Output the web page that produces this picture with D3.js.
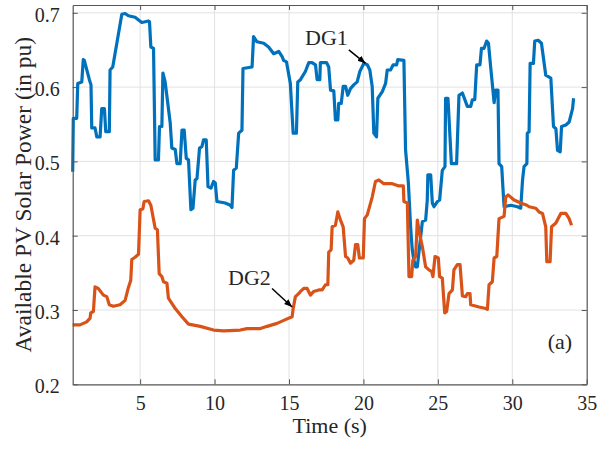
<!DOCTYPE html>
<html>
<head>
<meta charset="utf-8">
<script src="https://cdn.jsdelivr.net/npm/d3@7"></script>
<style>
  html, body { margin: 0; padding: 0; background: #fff; }
  svg { display: block; }
  text { font-family: "Liberation Serif", "Times New Roman", serif; fill: #262626; }
</style>
</head>
<body>
<svg id="chart" width="600" height="450"></svg>
<script>
// ---- Data ----
const xTicks = [5, 10, 15, 20, 25, 30, 35];
const yTicks = [0.2, 0.3, 0.4, 0.5, 0.6, 0.7];
const xTickLabels = ["5", "10", "15", "20", "25", "30", "35"];
const yTickLabels = ["0.2", "0.3", "0.4", "0.5", "0.6", "0.7"];

const dg1Time = [0.47,0.51,0.74,0.81,1.08,1.18,1.25,1.59,1.70,1.75,1.97,2.09,2.31,2.42,2.60,2.69,2.93,2.98,3.16,3.77,3.99,4.21,4.66,5.11,5.56,5.63,5.72,5.90,6.01,6.23,6.30,6.46,6.53,6.68,7.02,7.13,7.36,7.47,7.69,7.81,7.96,8.10,8.25,8.41,8.55,8.70,8.82,8.99,9.15,9.26,9.44,9.56,9.76,9.93,10.05,10.16,10.72,11.06,11.17,11.28,11.46,11.62,11.84,11.91,12.52,12.62,12.85,13.30,13.63,13.97,14.31,14.54,14.64,14.83,15.09,15.28,15.50,15.59,15.77,16.10,16.33,16.55,16.78,16.89,17.07,17.11,17.52,17.67,17.79,18.01,18.12,18.28,18.34,18.51,18.64,18.80,18.95,19.13,19.35,19.58,19.76,20.03,20.26,20.43,20.59,20.70,20.88,20.97,21.27,21.49,21.60,21.82,22.00,22.23,22.31,22.72,22.83,23.02,23.17,23.28,23.39,23.51,23.62,23.77,23.96,24.18,24.29,24.33,24.52,24.63,24.74,24.97,25.12,25.30,25.48,25.52,25.68,25.91,26.26,26.42,26.65,26.98,27.21,27.32,27.48,27.61,27.83,27.93,28.10,28.28,28.40,28.55,28.78,28.89,29.04,29.11,29.29,29.38,29.45,29.90,30.35,30.57,30.69,30.79,30.98,31.01,31.13,31.20,31.42,31.51,31.74,31.96,32.25,32.59,32.77,32.93,33.04,33.22,33.31,33.60,33.82,34.05,34.12];
const dg1Power = [0.486,0.558,0.558,0.605,0.607,0.637,0.636,0.610,0.603,0.545,0.545,0.533,0.533,0.571,0.571,0.540,0.540,0.623,0.627,0.698,0.699,0.696,0.694,0.687,0.689,0.688,0.654,0.652,0.502,0.502,0.547,0.547,0.619,0.607,0.552,0.518,0.516,0.497,0.497,0.542,0.542,0.504,0.502,0.435,0.437,0.475,0.477,0.518,0.520,0.529,0.529,0.466,0.464,0.473,0.471,0.446,0.444,0.441,0.438,0.488,0.491,0.538,0.542,0.625,0.627,0.668,0.661,0.659,0.654,0.645,0.648,0.641,0.636,0.634,0.605,0.538,0.538,0.607,0.610,0.621,0.633,0.633,0.630,0.610,0.610,0.633,0.633,0.627,0.596,0.595,0.556,0.556,0.578,0.578,0.601,0.601,0.589,0.598,0.603,0.607,0.621,0.632,0.630,0.623,0.601,0.538,0.533,0.585,0.594,0.605,0.623,0.623,0.630,0.630,0.637,0.636,0.516,0.471,0.412,0.381,0.367,0.358,0.358,0.385,0.419,0.421,0.448,0.482,0.482,0.444,0.439,0.446,0.448,0.488,0.493,0.585,0.585,0.497,0.497,0.589,0.592,0.574,0.574,0.583,0.583,0.630,0.630,0.652,0.652,0.662,0.659,0.627,0.579,0.596,0.596,0.497,0.493,0.462,0.439,0.441,0.439,0.437,0.475,0.493,0.497,0.538,0.540,0.632,0.632,0.662,0.663,0.659,0.616,0.612,0.547,0.544,0.515,0.513,0.547,0.549,0.553,0.571,0.585];

const dg2Time = [0.47,0.96,1.41,1.64,1.68,1.86,1.97,2.19,2.53,2.76,2.93,3.20,3.65,3.99,4.21,4.37,4.44,4.66,4.89,5.00,5.18,5.27,5.56,5.72,6.01,6.16,6.28,6.46,6.57,6.80,6.90,7.13,7.36,7.81,8.25,9.04,9.93,10.61,11.73,12.18,13.08,13.53,14.20,14.76,15.21,15.28,15.43,15.65,15.77,15.99,16.22,16.44,16.66,17.00,17.23,17.45,17.61,17.67,17.83,17.90,18.12,18.28,18.46,18.64,18.80,18.95,19.13,19.35,19.47,19.62,19.73,19.99,20.07,20.26,20.59,20.81,21.04,21.37,21.94,22.38,22.68,22.72,22.95,23.06,23.24,23.32,23.51,23.62,23.77,23.96,24.18,24.40,24.58,24.67,24.81,25.03,25.12,25.30,25.46,25.59,25.75,25.98,26.08,26.31,26.49,26.65,26.87,26.98,27.16,27.21,27.77,28.22,28.33,28.44,28.66,28.78,28.96,29.11,29.45,29.56,29.72,30.12,30.57,30.98,31.13,31.58,31.80,32.03,32.25,32.32,32.54,32.64,32.93,33.26,33.60,33.82,33.98];
const dg2Power = [0.280,0.280,0.284,0.289,0.296,0.298,0.331,0.329,0.320,0.318,0.307,0.305,0.307,0.313,0.330,0.340,0.368,0.371,0.375,0.435,0.436,0.446,0.447,0.441,0.410,0.408,0.349,0.345,0.338,0.336,0.316,0.309,0.302,0.291,0.281,0.278,0.273,0.272,0.273,0.275,0.275,0.278,0.282,0.287,0.291,0.302,0.318,0.322,0.325,0.329,0.329,0.320,0.325,0.327,0.327,0.334,0.334,0.378,0.381,0.412,0.414,0.432,0.421,0.412,0.372,0.370,0.363,0.367,0.388,0.388,0.370,0.370,0.423,0.428,0.452,0.473,0.475,0.470,0.470,0.467,0.467,0.446,0.444,0.345,0.345,0.367,0.372,0.421,0.403,0.385,0.358,0.354,0.352,0.345,0.372,0.370,0.345,0.343,0.296,0.298,0.322,0.327,0.354,0.361,0.361,0.319,0.318,0.322,0.322,0.307,0.304,0.302,0.301,0.334,0.338,0.370,0.372,0.423,0.426,0.452,0.455,0.448,0.444,0.441,0.439,0.437,0.432,0.430,0.412,0.365,0.365,0.412,0.417,0.430,0.430,0.423,0.414];

const seriesNames = ["DG1", "DG2"];
const seriesColors = ["#0072BD", "#D95319"];

// ---- Layout ----
const svg = d3.select("#chart");
const L = 72.7, R = 586.7, T = 5, B = 384.3;
const x = d3.scaleLinear().domain([0.47, 35]).range([L, R]);
const y = d3.scaleLinear().domain([0.2, 0.7105]).range([B, T]);

// grid
const grid = svg.append("g");
grid.selectAll(".gx").data(xTicks.filter(t => t < 35)).enter().append("line")
  .attr("x1", d => x(d)).attr("x2", d => x(d)).attr("y1", T).attr("y2", B)
  .attr("stroke", "#e2e2e2").attr("stroke-width", 1);
grid.selectAll(".gy").data(yTicks.filter(t => t > 0.2)).enter().append("line")
  .attr("x1", L).attr("x2", R).attr("y1", d => y(d)).attr("y2", d => y(d))
  .attr("stroke", "#e2e2e2").attr("stroke-width", 1);

// lines
const line = d3.line().x(d => x(d[0])).y(d => y(d[1]));
const dg1 = dg1Time.map((t, i) => [t, dg1Power[i]]);
const dg2 = dg2Time.map((t, i) => [t, dg2Power[i]]);
[dg1, dg2].forEach((data, i) => {
  svg.append("path").datum(data)
    .attr("fill", "none").attr("stroke", seriesColors[i])
    .attr("stroke-width", 3.2).attr("stroke-linejoin", "round")
    .attr("d", line);
});

// axes (inward ticks, box)
const tickLen = 5;
const xAxisB = d3.axisBottom(x).tickValues(xTicks).tickSizeInner(-tickLen).tickSizeOuter(0).tickFormat((d, i) => xTickLabels[i]).tickPadding(14);
const yAxisL = d3.axisLeft(y).tickValues(yTicks).tickSizeInner(-tickLen).tickSizeOuter(0).tickFormat((d, i) => yTickLabels[i]).tickPadding(13);
const gx = svg.append("g").attr("transform", `translate(0,${B})`).call(xAxisB);
const gy = svg.append("g").attr("transform", `translate(${L},0)`).call(yAxisL);
const gxt = svg.append("g").attr("transform", `translate(0,${T})`).call(d3.axisTop(x).tickValues(xTicks).tickSizeInner(-tickLen).tickSizeOuter(0).tickFormat(""));
const gyr = svg.append("g").attr("transform", `translate(${R},0)`).call(d3.axisRight(y).tickValues(yTicks).tickSizeInner(-tickLen).tickSizeOuter(0).tickFormat(""));
[gx, gy, gxt, gyr].forEach(g => {
  g.select(".domain").attr("stroke", "#555").attr("stroke-width", 1.2);
  g.selectAll(".tick line").attr("stroke", "#555");
  g.selectAll(".tick text").attr("font-family", '"Liberation Serif", "Times New Roman", serif').attr("font-size", 20).attr("fill", "#262626");
});
gy.selectAll(".tick text").attr("dy", "0.42em");
gx.selectAll(".tick text").attr("dy", "0.6em");

// axis titles
svg.append("text").attr("x", (L + R) / 2).attr("y", 433).attr("text-anchor", "middle")
  .attr("font-size", 22).text("Time (s)");
svg.append("text").attr("transform", `translate(31,${(T + B) / 2}) rotate(-90)`).attr("text-anchor", "middle")
  .attr("font-size", 23.5).text("Available PV Solar Power (in pu)");

// annotations
svg.append("defs").append("marker").attr("id", "ah").attr("viewBox", "0 0 10 10")
  .attr("refX", 10).attr("refY", 5).attr("markerWidth", 8).attr("markerHeight", 8)
  .attr("markerUnits", "userSpaceOnUse").attr("orient", "auto")
  .append("path").attr("d", "M0,1 L10,5 L0,9 Z").attr("fill", "#000");

const annotations = [
  { label: "DG1", tx: 17.52, ty: 0.657, ax0: 19.02, ay0: 0.650, ax1: 20.14, ay1: 0.632 },
  { label: "DG2", tx: 12.34, ty: 0.334, ax0: 13.86, ay0: 0.329, ax1: 15.21, ay1: 0.304 }
];
annotations.forEach(a => {
  svg.append("text").attr("x", x(a.tx)).attr("y", y(a.ty)).attr("text-anchor", "middle")
    .attr("font-size", 22).attr("fill", "#000").text(a.label);
  svg.append("line").attr("x1", x(a.ax0)).attr("y1", y(a.ay0)).attr("x2", x(a.ax1)).attr("y2", y(a.ay1))
    .attr("stroke", "#000").attr("stroke-width", 1.5).attr("marker-end", "url(#ah)");
});
svg.append("text").attr("x", x(33.2)).attr("y", y(0.2475)).attr("text-anchor", "middle")
  .attr("font-size", 22).attr("fill", "#000").text("(a)");
</script>
</body>
</html>
